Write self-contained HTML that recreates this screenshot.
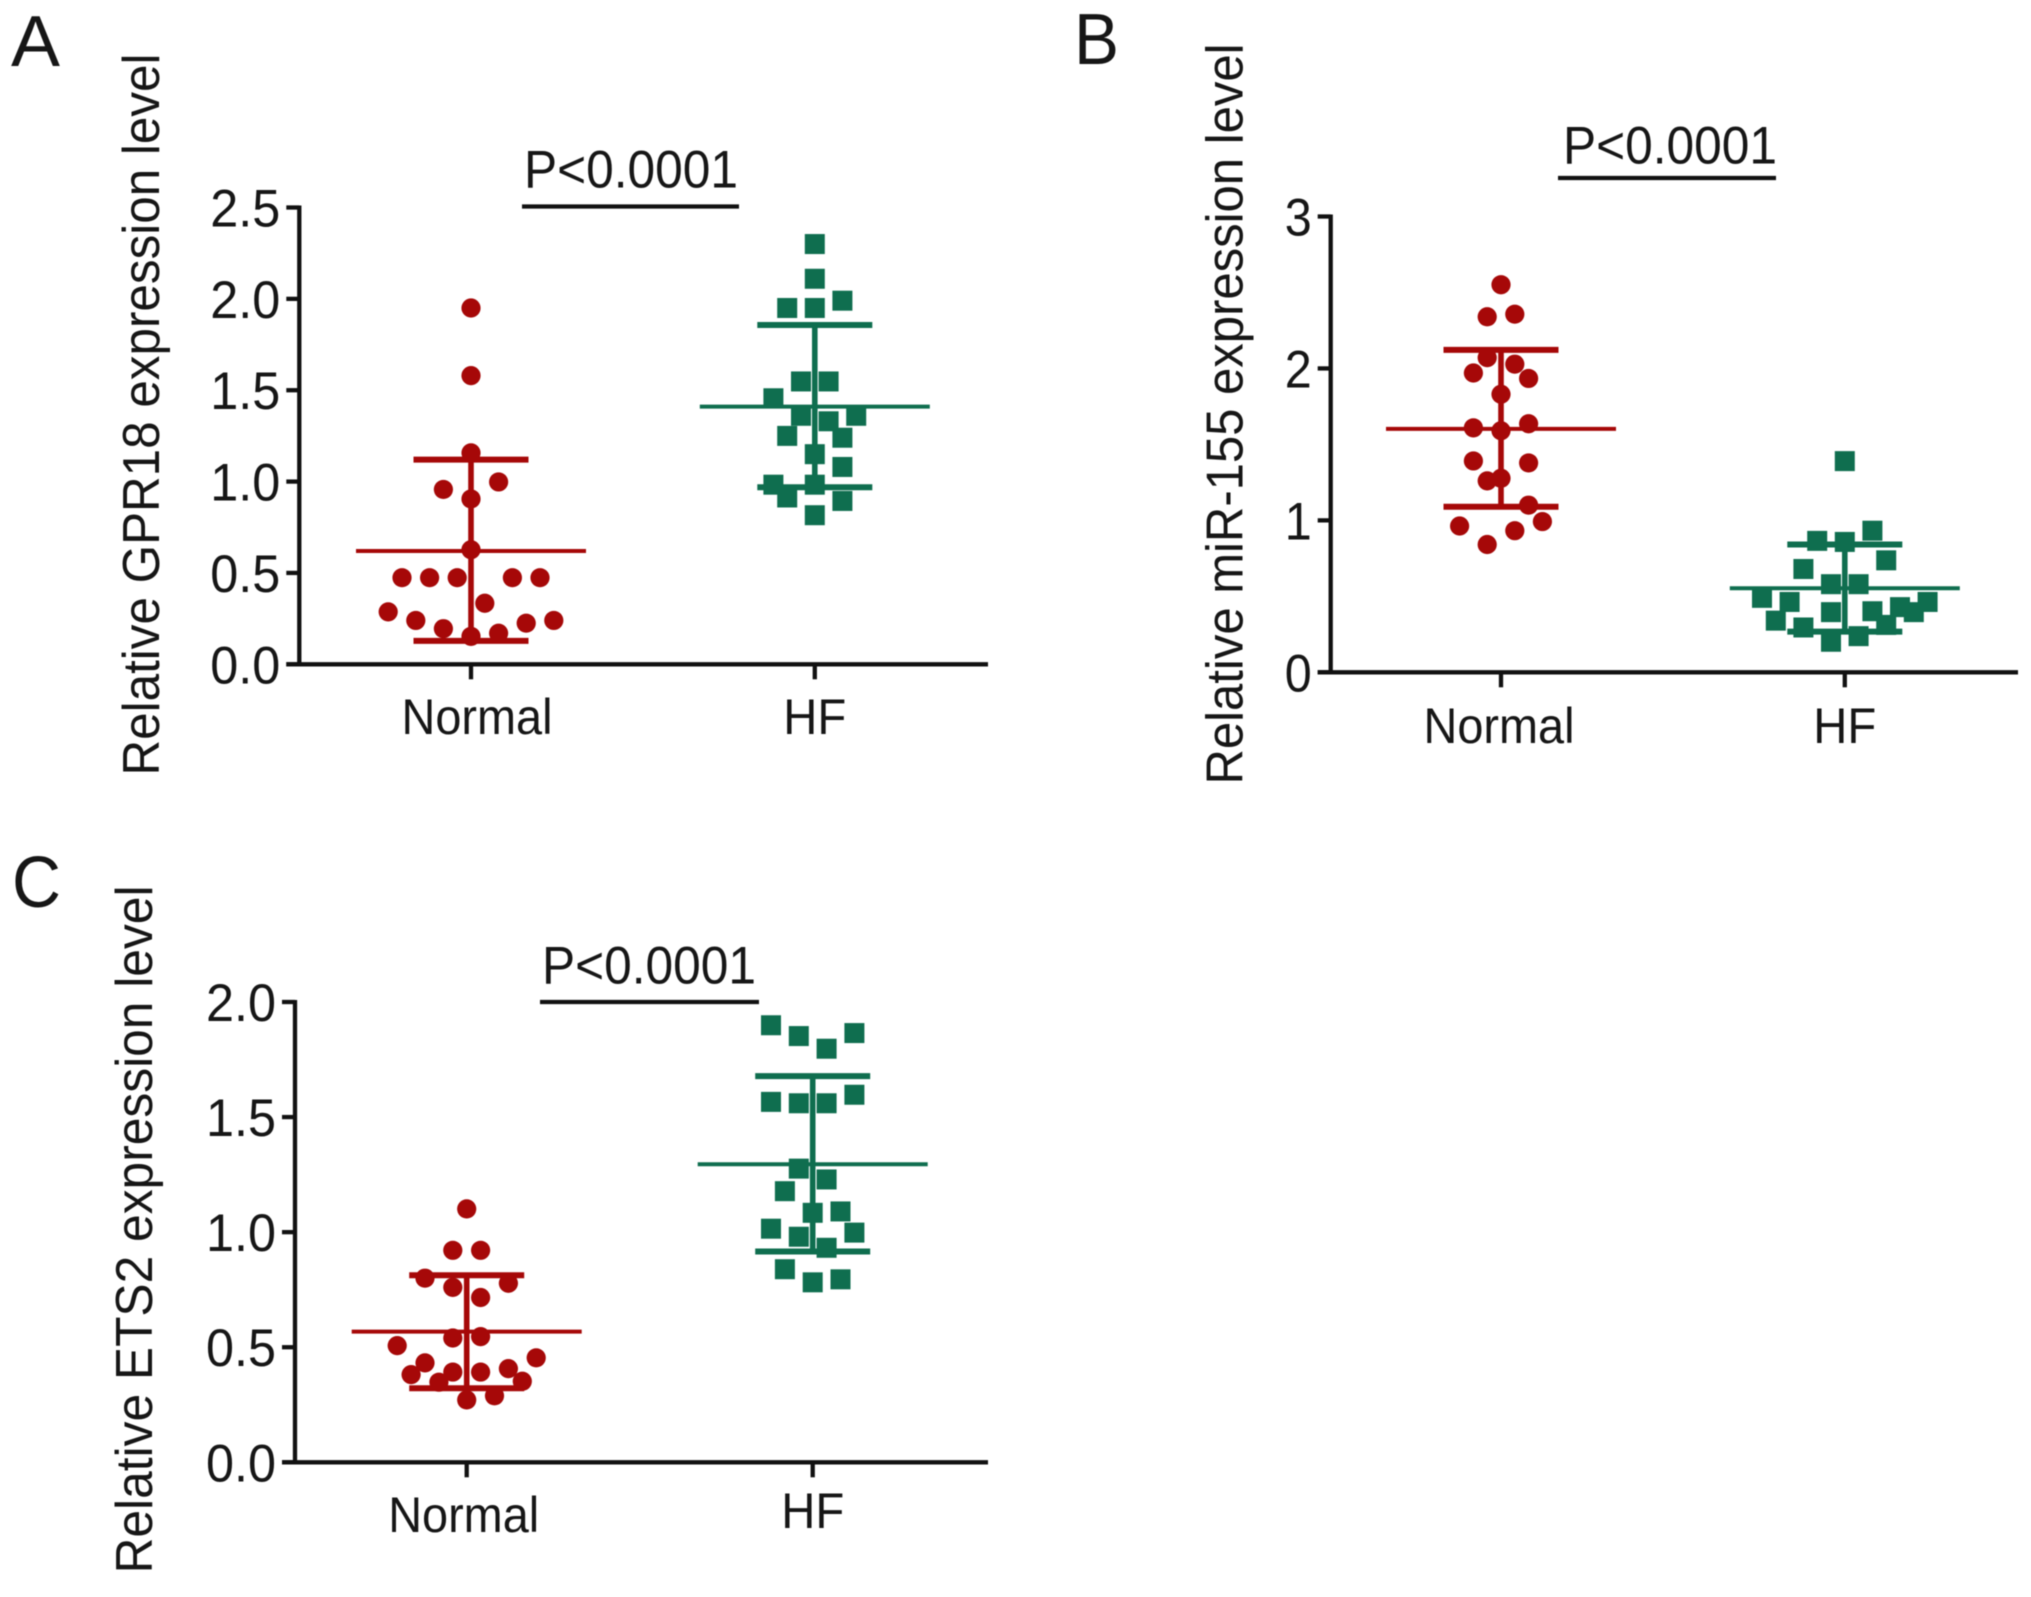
<!DOCTYPE html>
<html lang="en">
<head>
<meta charset="utf-8">
<title>Relative expression levels</title>
<style>
html,body{margin:0;padding:0;background:#fff;width:2031px;height:1597px;overflow:hidden}
svg{display:block;filter:blur(.6px)}
text{font-family:"Liberation Sans",Arial,sans-serif;fill:#161616}
</style>
</head>
<body>
<svg id="figure" xmlns="http://www.w3.org/2000/svg" width="2031" height="1597" viewBox="0 0 2031 1597"></svg>
<script>
const categories = ['Normal', 'HF'];

const aTickValues = [0, 0.5, 1, 1.5, 2, 2.5];
const aTickLabels = ['0.0', '0.5', '1.0', '1.5', '2.0', '2.5'];
const aNormalValues = [1.95,1.58,1.157,0.957,0.998,0.905,0.627,0.474,0.474,0.474,0.474,0.474,0.334,0.287,0.24,0.195,0.225,0.24,0.153,0.17];
const aNormalSlots = [0,0,0,-2,2,0,0,-5,-3,-1,3,5,1,-6,-4,-2,4,6,0,2];
const aNormalStats = [0.62, 1.12, 0.128];
const aHfValues = [2.30,2.11,1.95,1.95,1.99,1.548,1.548,1.456,1.36,1.33,1.36,1.25,1.24,1.15,1.08,0.983,0.983,0.913,0.894,0.816];
const aHfSlots = [0,0,-2,0,2,-1,1,-3,-1,1,3,-2,2,0,2,-3,0,-2,2,0];
const aHfStats = [1.41, 1.857, 0.969];

const bTickValues = [0, 1, 2, 3];
const bTickLabels = ['0', '1', '2', '3'];
const bNormalValues = [2.551,2.34,2.357,2.071,2.028,1.97,1.934,1.83,1.609,1.636,1.59,1.391,1.378,1.277,1.26,1.10,0.963,0.992,0.932,0.841];
const bNormalSlots = [0,-1,1,-1,1,-2,2,0,-2,2,0,-2,2,0,-1,2,-3,3,1,-1];
const bNormalStats = [1.602, 2.122, 1.09];
const bHfValues = [1.39,0.932,0.865,0.858,0.737,0.68,0.58,0.58,0.49,0.463,0.396,0.402,0.463,0.429,0.396,0.34,0.312,0.295,0.238,0.201];
const bHfSlots = [0,2,-2,0,3,-3,-1,1,-6,-4,-1,2,6,4,5,-5,3,-3,1,-1];
const bHfStats = [0.553, 0.841, 0.268];

const cTickValues = [0, 0.5, 1, 1.5, 2];
const cTickLabels = ['0.0', '0.5', '1.0', '1.5', '2.0'];
const cNormalValues = [1.101,0.921,0.921,0.80,0.778,0.76,0.716,0.54,0.546,0.507,0.454,0.432,0.392,0.392,0.407,0.381,0.348,0.352,0.289,0.271];
const cNormalSlots = [0,-1,1,-3,3,-1,1,-1,1,-5,5,-3,-1,1,3,-4,-2,4,2,0];
const cNormalStats = [0.568, 0.813, 0.322];
const cHfValues = [1.899,1.852,1.865,1.797,1.597,1.566,1.56,1.56,1.276,1.229,1.178,1.084,1.09,1.015,0.998,0.98,0.932,0.839,0.795,0.782];
const cHfSlots = [-3,-1,3,1,3,-3,-1,1,-1,1,-2,0,2,-3,3,-1,1,-2,2,0];
const cHfStats = [1.295, 1.678, 0.916];

const RED = '#a60808';
const GREEN = '#0f6e4f';
const INK = '#111111';
const svg = document.getElementById('figure');
const NS = 'http://www.w3.org/2000/svg';

function make(tag, attrs, parent) {
  const el = document.createElementNS(NS, tag);
  for (const k in attrs) el.setAttribute(k, attrs[k]);
  parent.appendChild(el);
  return el;
}
function line(x1, y1, x2, y2, color, width, parent) {
  return make('line', {x1, y1, x2, y2, stroke: color, 'stroke-width': width}, parent);
}
function label(str, x, y, size, anchor, parent, len) {
  const el = make('text', {x, y, 'font-size': size, 'text-anchor': anchor}, parent);
  if (len) {
    el.setAttribute('textLength', len);
    el.setAttribute('lengthAdjust', 'spacingAndGlyphs');
  }
  el.textContent = str;
  return el;
}

function drawSeries(g, xCenter, yScale, values, slots, stats, color, shape, key, step) {
  const series = make('g', {}, g);
  
  
  values.forEach((v, i) => {
    const cx = xCenter + slots[i] * step;
    const cy = yScale(v);
    let mark;
    if (shape === 'circle') {
      mark = make('circle', {cx, cy, r: 9.6, fill: color}, series);
    } else {
      mark = make('rect', {x: cx - 10, y: cy - 10, width: 20, height: 20, fill: color}, series);
    }
    
    
  });
  const mean = line(xCenter - 115, yScale(stats[0]), xCenter + 115, yScale(stats[0]), color, 4, series);
  
  
  const stem = line(xCenter, yScale(stats[1]), xCenter, yScale(stats[2]), color, 5.6, series);
  
  
  const upper = line(xCenter - 57.5, yScale(stats[1]), xCenter + 57.5, yScale(stats[1]), color, 6, series);
  
  
  const lower = line(xCenter - 57.5, yScale(stats[2]), xCenter + 57.5, yScale(stats[2]), color, 6, series);
  
  
}

function drawPanel(p) {
  const g = make('g', {}, svg);
  
  

  const yScale = v => p.y0 - (v - p.ticks[0]) / (p.ticks[p.ticks.length - 1] - p.ticks[0]) * (p.y0 - p.yTop);
  const xScale = i => p.firstX + i * p.band;

  const letter = label(p.letter, p.letterX, p.letterY, 72, 'start', g, p.letterLen);
  
  

  const title = label(p.title, 0, 0, 52, 'middle', g, p.titleLen);
  title.setAttribute('transform', 'translate(' + p.titleX + ',' + p.titleY + ') rotate(-90)');
  
  

  const yAxis = line(p.axisX, p.yTop - 2, p.axisX, p.y0 + 2, INK, 4.3, g);
  
  
  const xAxis = line(p.axisX - 13, p.y0, p.axisRight, p.y0, INK, 4.3, g);
  
  

  p.ticks.forEach((t, i) => {
    const y = yScale(t);
    const tick = line(p.axisX - 13, y, p.axisX, y, INK, 4.3, g);
    
    
    const txt = label(p.tickLabels[i], p.axisX - 19, y + 19, 53, 'end', g, p.tickLen);
    
    
  });

  categories.forEach((c, i) => {
    const x = xScale(i);
    const tick = line(x, p.y0, x, p.y0 + 15, INK, 4.3, g);
    
    
    const txt = label(c, x + p.labelShift[i], p.labelY[i], 50, 'middle', g, i === 0 ? 151 : 63);
    
    
  });

  drawSeries(g, xScale(0), yScale, p.normal, p.normalSlots, p.normalStats, RED, 'circle', p.key + '-normal', p.step);
  drawSeries(g, xScale(1), yScale, p.hf, p.hfSlots, p.hfStats, GREEN, 'square', p.key + '-hf', p.step);

  const bar = line(p.barX1, p.barY, p.barX2, p.barY, INK, 4.3, g);
  
  
  const pText = label('P<0.0001', p.pX, p.pY, 53, 'start', g, p.pLen);
  
  
}

drawPanel({
  key: 'gpr18', letter: 'A', letterX: 11, letterY: 66, letterLen: 49,
  title: 'Relative GPR18 expression level', titleX: 159, titleY: 414.5, titleLen: 722,
  axisX: 299.3, axisRight: 988, y0: 664.3, yTop: 207.5, firstX: 471, band: 343.8, step: 13.8, tickLen: 70,
  ticks: aTickValues, tickLabels: aTickLabels,
  labelShift: [6, 0], labelY: [734, 734],
  normal: aNormalValues, normalSlots: aNormalSlots, normalStats: aNormalStats,
  hf: aHfValues, hfSlots: aHfSlots, hfStats: aHfStats,
  barX1: 522, barX2: 739, barY: 206.5, pX: 524, pY: 187.5, pLen: 214
});
drawPanel({
  key: 'mir155', letter: 'B', letterX: 1074, letterY: 64, letterLen: 45,
  title: 'Relative miR-155 expression level', titleX: 1242.5, titleY: 414, titleLen: 741,
  axisX: 1330.7, axisRight: 2018, y0: 672.3, yTop: 216.5, firstX: 1501, band: 343.8, step: 13.8, tickLen: 27,
  ticks: bTickValues, tickLabels: bTickLabels,
  labelShift: [-2, 0], labelY: [743, 743],
  normal: bNormalValues, normalSlots: bNormalSlots, normalStats: bNormalStats,
  hf: bHfValues, hfSlots: bHfSlots, hfStats: bHfStats,
  barX1: 1558, barX2: 1776, barY: 178, pX: 1563, pY: 163.5, pLen: 214
});
drawPanel({
  key: 'ets2', letter: 'C', letterX: 12, letterY: 907, letterLen: 49,
  title: 'Relative ETS2 expression level', titleX: 152, titleY: 1229.5, titleLen: 688,
  axisX: 295, axisRight: 988, y0: 1462.3, yTop: 1002, firstX: 466.7, band: 346, step: 13.9, tickLen: 70,
  ticks: cTickValues, tickLabels: cTickLabels,
  labelShift: [-3, 0], labelY: [1532, 1528],
  normal: cNormalValues, normalSlots: cNormalSlots, normalStats: cNormalStats,
  hf: cHfValues, hfSlots: cHfSlots, hfStats: cHfStats,
  barX1: 540, barX2: 759, barY: 1002, pX: 542, pY: 983.5, pLen: 214
});
</script>
</body>
</html>
